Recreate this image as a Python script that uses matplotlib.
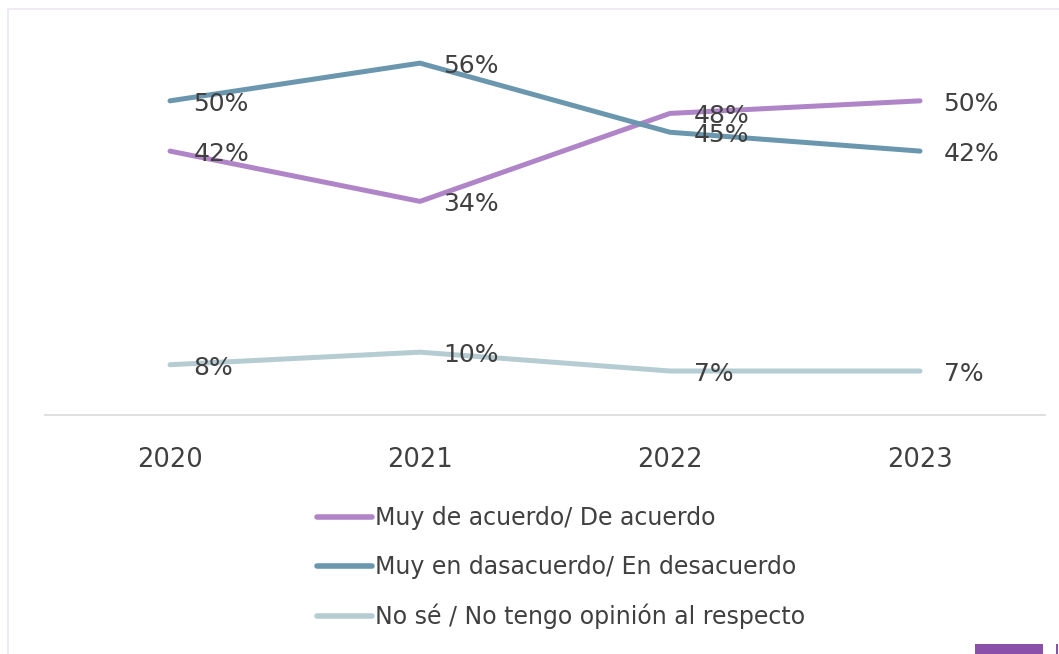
import numpy as np
import matplotlib
matplotlib.use("Agg")
import matplotlib.pyplot as plt
from matplotlib.patches import Rectangle

years = ["2020", "2021", "2022", "2023"]
acuerdo = [42, 34, 48, 50]
desacuerdo = [50, 56, 45, 42]
no_sabe = [8, 10, 7, 7]

series_names = [
    "Muy de acuerdo/ De acuerdo",
    "Muy en dasacuerdo/ En desacuerdo",
    "No sé / No tengo opinión al respecto",
]
colors = ["#B085C8", "#6A97AE", "#B5CCD3"]
TEXT = "#404040"

plt.rcParams["font.family"] = ["DejaVu Sans"]

W, H = 1059, 654
fig = plt.figure(figsize=(W / 100, H / 100), dpi=100)
fig.patch.set_facecolor("white")

# plot area in pixel coords: x 45..1045, y(top) 38..415
ax = fig.add_axes([45 / W, 1 - 415 / H, 1000 / W, (415 - 38) / H])
ax.set_facecolor("none")

x = np.arange(len(years))
for vals, name, c in zip([acuerdo, desacuerdo, no_sabe], series_names, colors):
    ax.plot(x, vals, color=c, lw=3.6, label=name, solid_capstyle="round")
    for xi, v in zip(x, vals):
        ax.annotate(f"{v}%", (xi, v), xytext=(17, -2), textcoords="offset points",
                    ha="left", va="center", fontsize=18, color=TEXT)

ax.set_xlim(-0.5, 3.5)
ax.set_ylim(0, 60)
ax.set_xticks(x)
ax.set_xticklabels(years, fontsize=18.5, color=TEXT)
ax.set_yticks([])
ax.tick_params(axis="x", length=0, pad=23)
for side in ["top", "right", "left"]:
    ax.spines[side].set_visible(False)
ax.spines["bottom"].set_color("#D9D9D9")
ax.spines["bottom"].set_linewidth(1.2)

leg = fig.legend(loc="upper left", bbox_to_anchor=(296 / W, 1 - 485 / H),
                 frameon=False, fontsize=17, handlelength=2.3, handletextpad=0.15,
                 labelspacing=1.05)
for t in leg.get_texts():
    t.set_color(TEXT)
for l in leg.get_lines():
    l.set_linewidth(4)

# frame and corner accents
fig.add_artist(Rectangle((8 / W, -0.1), 1.2, 1 - 9 / H + 0.1, transform=fig.transFigure,
                         fill=False, edgecolor="#EFE6F2", lw=1.2))
fig.add_artist(Rectangle((975 / W, 0), 68 / W, 10 / H, transform=fig.transFigure,
                         color="#8A4FA8", lw=0))
fig.add_artist(Rectangle((1056 / W, 0), 2 / W, 10 / H, transform=fig.transFigure,
                         color="#8A4FA8", lw=0))

fig.savefig("out.png", dpi=100)
